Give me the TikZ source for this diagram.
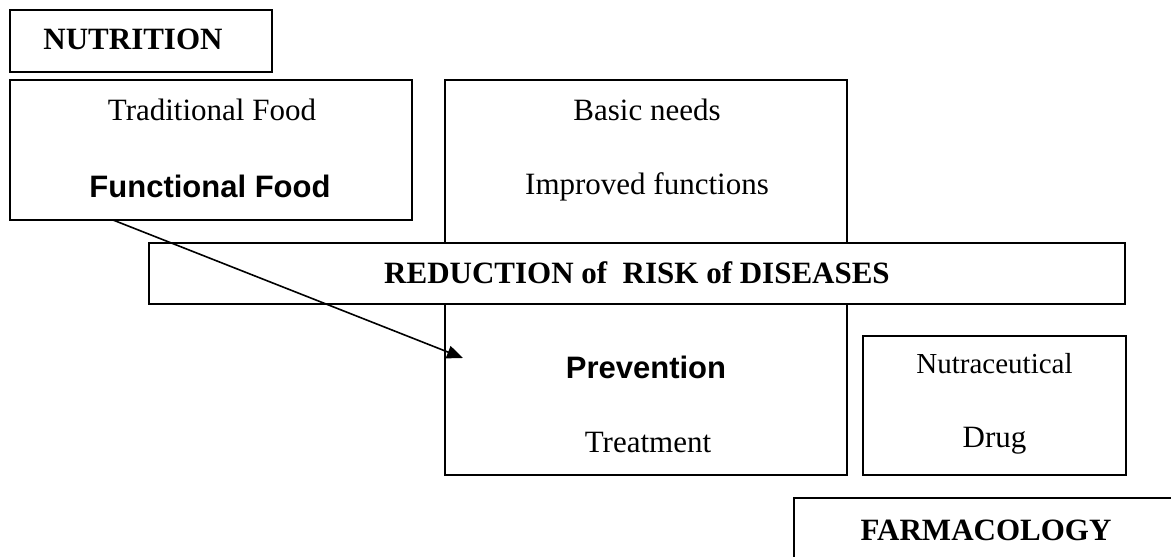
\documentclass[tikz,border=0pt]{standalone}
\usepackage{fontspec}
\setmainfont{Liberation Serif}
\newfontfamily\arialfont{Liberation Sans}
\usetikzlibrary{arrows.meta}
\begin{document}
\begin{tikzpicture}[x=1pt,y=-1pt,
  box/.style={draw, line width=1.6pt, fill=white, inner sep=0pt, outer sep=0pt, anchor=north west},
  txt/.style={anchor=base, inner sep=0pt, font=\fontsize{31}{37}\selectfont},
  btxt/.style={anchor=base, inner sep=0pt, font=\fontsize{31}{37}\selectfont\bfseries},
  stxt/.style={anchor=base, inner sep=0pt, font=\fontsize{31}{37}\selectfont\arialfont\bfseries},
  conn/.style={line width=1.6pt, -{Triangle[length=16pt,width=13pt]}}]
\clip (0,0) rectangle (1171,557);
\fill[white] (0,0) rectangle (1171,557);
% boxes
\node[box, minimum width=262pt, minimum height=62pt] (nut) at (10,10) {};
\node[box, minimum width=402pt, minimum height=140pt] (trad) at (10,80) {};
\node[box, minimum width=402pt, minimum height=395pt] (needs) at (445,80) {};
\node[box, minimum width=976pt, minimum height=61pt] (red) at (149,243) {};
\node[box, minimum width=263pt, minimum height=139pt] (nutra) at (863,336) {};
\node[box, minimum width=420pt, minimum height=100pt] (farm) at (794,498) {};
% texts
\node[btxt] (tnut) at (133,49) {NUTRITION};
\node[txt] (ttrad) at (212,120) {Traditional Food};
\node[stxt] (tfunc) at (210,197) {Functional Food};
\node[txt] (tbasic) at (647,120) {Basic needs};
\node[txt] (timpr) at (647,194) {Improved functions};
\node[btxt] (tred) at (637,283) {REDUCTION of\ \ RISK of DISEASES};
\node[stxt] (tprev) at (646,378) {Prevention};
\node[txt] (ttreat) at (648,452) {Treatment};
\node[txt, font=\fontsize{29}{35}\selectfont] (tnutra) at (994.5,373) {Nutraceutical};
\node[txt] (tdrug) at (994.5,447) {Drug};
\node[btxt] (tfarm) at (986,540) {FARMACOLOGY};
% arrow
\coordinate (a0) at (113,220);
\coordinate (a1) at (463,358);
\draw[conn] (a0) -- (a1);
\end{tikzpicture}
\end{document}
